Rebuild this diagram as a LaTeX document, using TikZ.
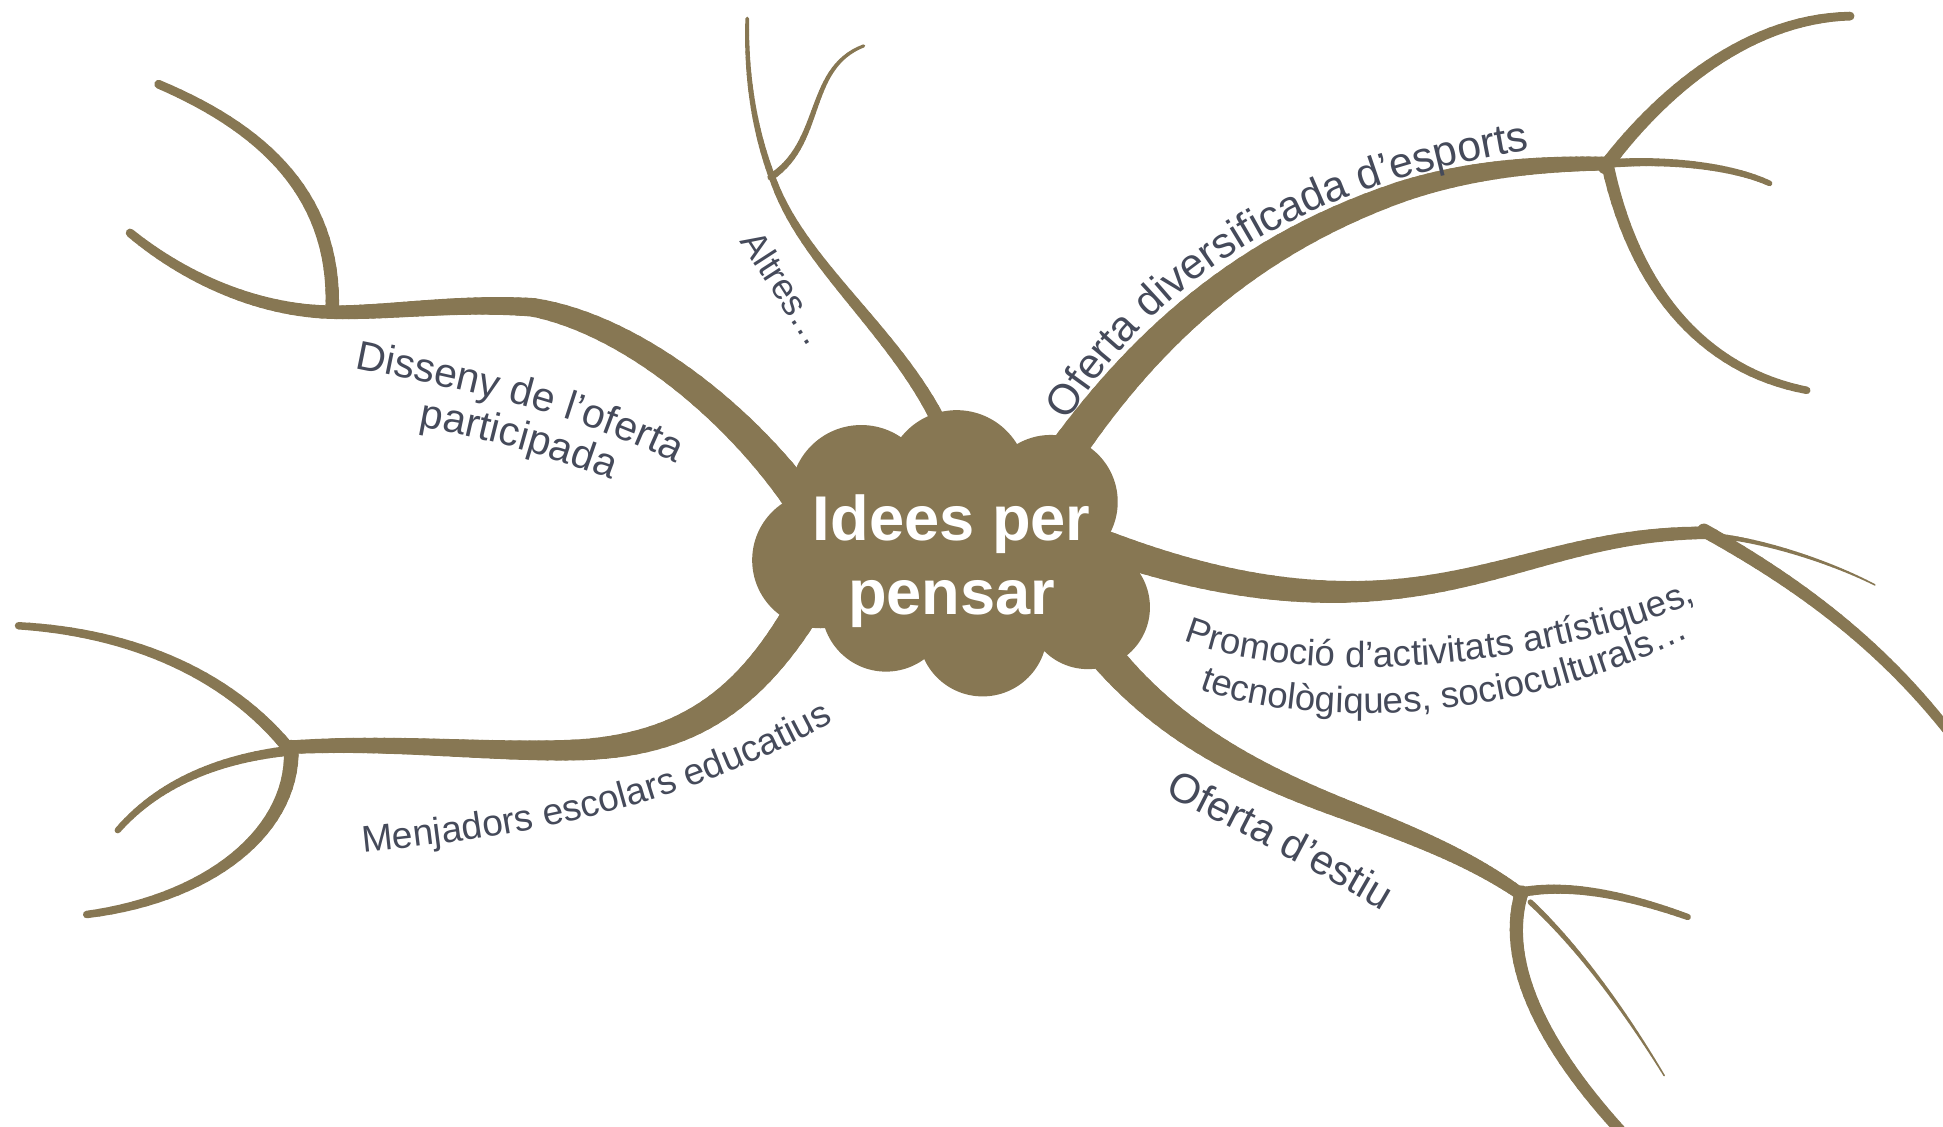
\documentclass[tikz,border=0pt]{standalone}
\usepackage{fontspec}
\setmainfont{Liberation Sans}
\usetikzlibrary{decorations.text}
\definecolor{brc}{HTML}{877753}
\definecolor{txc}{HTML}{454A5A}
\tikzset{brline/.style={draw=brc,line cap=round,line join=round}}
% tapered cubic branch: start, c1, c2, end, width start, width end
\newcommand\tapr[6]{%
  \path #1 .. controls #2 and #3 .. #4
    foreach \k [evaluate=\k as \tq using \k/30] in {0,...,30} {coordinate[pos=\tq] (tq\k)};
  \foreach \k [evaluate=\k as \kk using int(\k+1), evaluate=\k as \ww using #5+(#6-#5)*(\k+0.5)/30] in {0,...,29}{%
    \draw[brline, line width=\ww pt] (tq\k) -- (tq\kk);
  }%
}
\newcommand\alongtext[3]{% font size, text, path
  \path[decorate, decoration={text along path, text color=txc, text align=left,
    text={|\fontsize{#1}{#1}\selectfont|#2}}] #3;
}
\begin{document}
\begin{tikzpicture}[x=1pt,y=-1pt]
\useasboundingbox (0,0) rectangle (1568,909);
% ---------- branches ----------
% Disseny
\tapr{(652,412)}{(600,335)}{(510,262)}{(430,248)}{28}{15}
\tapr{(430,248)}{(370,244)}{(320,252)}{(272,252)}{15}{11}
\tapr{(272,252)}{(210,252)}{(150,225)}{(105,188)}{11}{7}
\tapr{(268,252)}{(272,160)}{(215,105)}{(128,68)}{11}{7}
% Menjadors
\tapr{(655,480)}{(610,560)}{(560,600)}{(470,605)}{29}{17}
\tapr{(470,605)}{(400,608)}{(320,598)}{(235,603)}{17}{11}
\tapr{(232,603)}{(180,540)}{(100,510)}{(15,505)}{10}{6}
\tapr{(235,603)}{(238,670)}{(170,725)}{(70,738)}{12}{6}
\tapr{(232,606)}{(180,612)}{(130,630)}{(95,670)}{8}{5}
% Altres
\tapr{(760,345)}{(725,270)}{(650,215)}{(625,148)}{12}{5.5}
\tapr{(625,148)}{(608,105)}{(602,60)}{(603,15)}{5.5}{3}
\tapr{(622,143)}{(665,115)}{(650,55)}{(697,37)}{5.5}{2.5}
% Oferta diversificada
\tapr{(860,365)}{(920,280)}{(1000,200)}{(1130,155)}{29}{17}
\tapr{(1130,155)}{(1190,135)}{(1250,132)}{(1297,132)}{17}{11}
\tapr{(1295,135)}{(1340,75)}{(1410,15)}{(1493,13)}{11}{7}
\tapr{(1297,132)}{(1320,240)}{(1380,300)}{(1458,315)}{10}{6}
\tapr{(1297,132)}{(1350,128)}{(1400,135)}{(1428,148)}{7}{4.5}
% Promocio
\tapr{(890,440)}{(960,465)}{(1040,485)}{(1130,475)}{25}{16}
\tapr{(1130,475)}{(1220,465)}{(1280,430)}{(1378,430)}{16}{10}
\tapr{(1375,428)}{(1450,470)}{(1520,520)}{(1580,600)}{11}{8}
\tapr{(1390,433)}{(1430,438)}{(1480,455)}{(1513,472)}{4}{1.2}
% Oferta d'estiu
\tapr{(885,520)}{(940,590)}{(1010,625)}{(1090,655)}{27}{16}
\tapr{(1090,655)}{(1150,678)}{(1190,695)}{(1228,722)}{16}{10}
\tapr{(1228,720)}{(1270,712)}{(1320,725)}{(1362,740)}{8}{5}
\tapr{(1228,720)}{(1210,780)}{(1250,850)}{(1310,915)}{11}{9}
\tapr{(1235,728)}{(1280,770)}{(1320,830)}{(1343,868)}{4.5}{1.2}
% ---------- cloud ----------
\fill[brc] (662,452) circle[radius=55pt]
  (695,400) circle[radius=57pt]
  (772,388) circle[radius=57pt]
  (848,405) circle[radius=54pt]
  (878,490) circle[radius=50pt]
  (793,510) circle[radius=52pt]
  (715,490) circle[radius=52pt]
  (770,455) ellipse[x radius=110pt, y radius=75pt];
\node[anchor=base, text=white, font=\fontsize{51}{60}\selectfont\bfseries] (t1) at (768,436) {Idees per};
\node[anchor=base, text=white, font=\fontsize{51}{60}\selectfont\bfseries] (t2) at (768,496) {pensar};
% ---------- labels ----------
\alongtext{33}{Disseny de l’oferta}{(286,297) .. controls (380,316) and (480,335) .. (580,392)}
\alongtext{33}{participada}{(338,344) .. controls (400,355) and (460,372) .. (530,402)}
\alongtext{29}{Altres…}{(597,195) -- (668,305)}
\alongtext{34.5}{Oferta diversificada d’esports}{(862,340) .. controls (930,230) and (1050,140) .. (1280,115)}
\alongtext{29.5}{Promoció d’activitats artístiques,}{(955,517) .. controls (1050,555) and (1270,545) .. (1410,465)}
\alongtext{29.5}{tecnològiques, socioculturals…}{(968,556) .. controls (1060,590) and (1240,585) .. (1390,500)}
\alongtext{33.5}{Oferta d’estiu}{(940,641) .. controls (1000,672) and (1060,700) .. (1150,756)}
\alongtext{30}{Menjadors escolars educatius}{(293,688) .. controls (420,675) and (560,655) .. (710,560)}
\end{tikzpicture}
\end{document}
